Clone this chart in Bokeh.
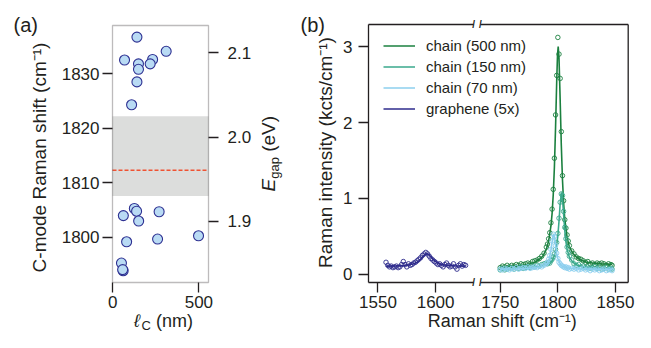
import math
from bokeh.plotting import figure
from bokeh.models import (Range1d, LinearAxis, FixedTicker, Label, BoxAnnotation,
                          Legend, LegendItem, PrintfTickFormatter)
from bokeh.layouts import row
from bokeh.embed import file_html
from bokeh.resources import INLINE

FONT = "Liberation Sans"
INK = "#231f20"

# ---------------- panel (a) data ----------------
chain_length_nm = [140, 68, 310, 231, 217, 149, 149, 140, 109,
                   61, 125, 138, 269, 150, 80, 260, 498, 50, 60, 57]
cmode_shift_cm = [1836.7, 1832.5, 1834.1, 1832.6, 1831.8, 1831.8, 1830.8, 1828.5, 1824.3,
                  1804.0, 1805.3, 1804.8, 1804.7, 1803.0, 1799.2, 1799.7, 1800.3, 1795.3, 1793.9, 1794.1]
band_low_cm = 1807.6
band_high_cm = 1822.2
mean_shift_cm = 1812.3
a_xticks = [0, 500]
a_yticks = [1800, 1810, 1820, 1830]
egap_ticks = [1.9, 2.0, 2.1]

# ---------------- panel (b) data ----------------
graphene_shift_cm = [1557.0, 1558.5, 1560.0, 1561.5, 1563.0, 1564.5, 1566.0, 1567.5, 1569.0, 1570.5,
                     1572.0, 1573.5, 1575.0, 1576.5, 1578.0, 1579.5, 1581.0, 1582.5, 1584.0, 1585.5,
                     1587.0, 1588.5, 1590.0, 1591.5, 1593.0, 1594.5, 1596.0, 1597.5, 1599.0, 1600.5,
                     1602.0, 1603.5, 1605.0, 1606.5, 1608.0, 1609.5, 1611.0, 1612.5, 1614.0, 1615.5,
                     1617.0, 1618.5, 1620.0, 1621.5, 1623.0, 1624.5, 1626.0]
graphene_intensity = [0.16, 0.12, 0.10, 0.11, 0.09, 0.10, 0.11, 0.09, 0.10, 0.13,
                      0.17, 0.13, 0.10, 0.14, 0.12, 0.13, 0.15, 0.16, 0.18, 0.20,
                      0.22, 0.25, 0.27, 0.29, 0.27, 0.24, 0.21, 0.19, 0.17, 0.15,
                      0.13, 0.14, 0.12, 0.10, 0.13, 0.15, 0.12, 0.10, 0.11, 0.14,
                      0.10, 0.07, 0.12, 0.14, 0.11, 0.13, 0.12]
graphene_fit_shift_cm = [1557, 1565, 1572, 1577, 1581, 1584, 1587, 1589, 1591, 1592.5,
                         1594, 1596, 1598, 1601, 1605, 1611, 1618, 1626]
graphene_fit_intensity = [0.11, 0.112, 0.118, 0.127, 0.14, 0.16, 0.20, 0.235, 0.265, 0.272,
                          0.262, 0.232, 0.195, 0.158, 0.132, 0.118, 0.112, 0.11]

chain_shift_cm = [1750, 1752, 1754, 1756, 1758, 1760, 1762, 1764, 1766, 1768,
                  1770, 1772, 1774, 1776, 1778, 1780, 1782, 1784, 1786, 1788,
                  1790, 1791, 1792, 1793, 1794, 1795, 1796, 1797, 1798, 1799,
                  1800, 1801, 1802, 1803, 1804, 1805, 1806, 1807, 1808, 1809,
                  1810, 1812, 1814, 1816, 1818, 1820, 1822, 1824, 1826, 1828,
                  1830, 1832, 1834, 1836, 1838, 1840, 1842, 1844, 1846, 1847]
chain500_intensity = [0.09, 0.11, 0.10, 0.12, 0.10, 0.12, 0.11, 0.13, 0.12, 0.14,
                      0.13, 0.14, 0.15, 0.14, 0.17, 0.18, 0.19, 0.21, 0.24, 0.28,
                      0.36, 0.40, 0.47, 0.55, 0.68, 0.86, 1.12, 1.53, 2.10, 2.62,
                      3.12, 2.90, 2.58, 1.88, 1.30, 0.97, 0.72, 0.61, 0.52, 0.44,
                      0.38, 0.31, 0.27, 0.23, 0.21, 0.20, 0.18, 0.16, 0.17, 0.14,
                      0.15, 0.13, 0.15, 0.14, 0.15, 0.14, 0.12, 0.14, 0.13, 0.12]
chain150_intensity = [0.06, 0.08, 0.06, 0.07, 0.09, 0.08, 0.07, 0.09, 0.08, 0.10,
                      0.08, 0.09, 0.10, 0.09, 0.11, 0.10, 0.12, 0.11, 0.13, 0.14,
                      0.15, 0.14, 0.16, 0.15, 0.18, 0.20, 0.23, 0.27, 0.33, 0.42,
                      0.54, 0.74, 0.95, 1.06, 1.04, 0.83, 0.62, 0.47, 0.36, 0.29,
                      0.24, 0.19, 0.14, 0.12, 0.13, 0.10, 0.11, 0.09, 0.10, 0.08,
                      0.09, 0.10, 0.08, 0.09, 0.07, 0.08, 0.09, 0.07, 0.08, 0.07]
chain70_intensity = [0.07, 0.06, 0.08, 0.07, 0.06, 0.08, 0.07, 0.09, 0.07, 0.08,
                     0.09, 0.08, 0.10, 0.08, 0.09, 0.10, 0.09, 0.11, 0.10, 0.12,
                     0.14, 0.16, 0.20, 0.25, 0.33, 0.44, 0.53, 0.50, 0.38, 0.28,
                     0.21, 0.16, 0.14, 0.12, 0.11, 0.10, 0.09, 0.10, 0.08, 0.09,
                     0.07, 0.08, 0.07, 0.08, 0.06, 0.07, 0.08, 0.06, 0.07, 0.05,
                     0.07, 0.06, 0.07, 0.05, 0.06, 0.07, 0.05, 0.06, 0.07, 0.05]
fit500_shift_cm = [1750, 1760, 1770, 1776, 1780, 1784, 1787, 1790, 1792, 1794, 1795, 1796,
                   1797, 1798, 1799, 1799.7, 1800.3, 1801, 1802, 1803, 1804, 1805, 1806,
                   1808, 1810, 1813, 1816, 1820, 1825, 1830, 1838, 1847]
fit500_intensity = [0.10, 0.11, 0.12, 0.14, 0.16, 0.20, 0.24, 0.33, 0.44, 0.64, 0.80, 1.05,
                    1.41, 1.93, 2.54, 2.89, 3.00, 2.85, 2.30, 1.70, 1.25, 0.94, 0.73,
                    0.49, 0.36, 0.28, 0.23, 0.19, 0.16, 0.15, 0.14, 0.13]
fit150_shift_cm = [1750, 1760, 1770, 1778, 1784, 1788, 1792, 1795, 1797, 1799, 1800, 1801,
                   1802, 1803.2, 1804, 1805, 1806, 1807, 1808, 1810, 1813, 1817, 1822, 1830,
                   1840, 1847]
fit150_intensity = [0.07, 0.075, 0.085, 0.095, 0.105, 0.12, 0.14, 0.18, 0.25, 0.39, 0.51, 0.70,
                    0.93, 1.08, 1.00, 0.79, 0.58, 0.43, 0.335, 0.225, 0.16, 0.12, 0.10, 0.09,
                    0.08, 0.08]
fit70_shift_cm = [1750, 1765, 1775, 1782, 1786, 1789, 1791, 1792.5, 1794, 1795, 1796.3, 1797.2,
                  1798, 1799, 1800, 1801.5, 1803, 1805, 1808, 1815, 1830, 1847]
fit70_intensity = [0.07, 0.075, 0.08, 0.09, 0.10, 0.12, 0.15, 0.20, 0.32, 0.43, 0.535, 0.49,
                   0.39, 0.28, 0.21, 0.155, 0.12, 0.10, 0.085, 0.075, 0.07, 0.065]

b_xticks = [1550, 1600, 1750, 1800, 1850]
b_yticks = [0, 1, 2, 3]
legend_labels = ["chain (500 nm)", "chain (150 nm)", "chain (70 nm)", "graphene (5x)"]

C500, C150, C70, CGR = "#1b803f", "#3aa98c", "#8ccfee", "#2e2b8c"

# ---------------- geometry (pixels inside each canvas) ----------------
H = 332
WA, WB = 290, 345
BOXA = dict(L=112, R=208, T=25, B=282, xr=(-2.0, 556.0), yr=(1791.74, 1838.83))
EGAP_BOX = (1.827, 2.1326)
BOXB = dict(L=78, R=337.7, T=24, B=282, xr=(1541.8, 1767.0), yr=(-0.106, 3.29))
BREAK_SHIFT = 94          # cm-1 removed from the broken x axis of panel (b)
LEFT_SEG_END = 1633.0     # end of the left x segment (cm-1)
RIGHT_SEG_START = 1732.9  # start of the right x segment (cm-1)
BASE = 0.33               # baseline correction (fraction of font size)


def full_x(b, W):
    s = (b["xr"][1] - b["xr"][0]) / (b["R"] - b["L"])
    return (b["xr"][0] - b["L"] * s, b["xr"][0] + (W - b["L"]) * s)


def full_y(b, lo, hi):
    s = (hi - lo) / (b["B"] - b["T"])
    return (lo - (H - b["B"]) * s, hi + b["T"] * s)


def px_to_data(b, W, cx, cy):
    x0, x1 = full_x(b, W)
    y0, y1 = full_y(b, *b["yr"])
    return x0 + cx / W * (x1 - x0), y1 - cy / H * (y1 - y0)


def add_text(fig, b, W, cx, cy, text, size, rotated=False, align="left",
             style="normal", color=INK):
    # (cx, cy) is where the text baseline should be
    if rotated:
        cx = cx - BASE * size
    else:
        cy = cy - BASE * size
    x, y = px_to_data(b, W, cx, cy)
    fig.add_layout(Label(x=x, y=y, text=text, angle=(math.pi / 2 if rotated else 0.0),
                         text_align=align, text_baseline="alphabetic", text_font=FONT,
                         text_font_size=f"{size}px", text_font_style=style,
                         text_color=color))


def style_axis(ax, standoff):
    ax.axis_line_color = None
    ax.major_tick_out = 10
    ax.major_tick_in = 0
    ax.minor_tick_out = 0
    ax.minor_tick_in = 0
    ax.major_tick_line_color = INK
    ax.major_tick_line_width = 1.3
    ax.major_label_text_font = FONT
    ax.major_label_text_font_size = "17px"
    ax.major_label_text_color = INK
    ax.major_label_standoff = standoff


def make_fig(W, b):
    f = figure(width=W, height=H, x_range=Range1d(*full_x(b, W)),
               y_range=Range1d(*full_y(b, *b["yr"])),
               output_backend="svg", toolbar_location=None,
               min_border_left=0, min_border_right=0, min_border_top=0, min_border_bottom=0)
    f.xgrid.visible = False
    f.ygrid.visible = False
    f.outline_line_color = None
    f.background_fill_color = "white"
    f.border_fill_color = "white"
    f.xaxis[0].fixed_location = b["yr"][0]
    f.yaxis[0].fixed_location = b["xr"][0]
    return f


# ================= panel (a) =================
pa = make_fig(WA, BOXA)
style_axis(pa.xaxis[0], 3)
style_axis(pa.yaxis[0], 3)
pa.xaxis[0].ticker = FixedTicker(ticks=a_xticks)
pa.yaxis[0].ticker = FixedTicker(ticks=a_yticks)

pa.extra_y_ranges = {"egap": Range1d(*full_y(BOXA, *EGAP_BOX))}
egap_axis = LinearAxis(y_range_name="egap", ticker=FixedTicker(ticks=egap_ticks),
                       formatter=PrintfTickFormatter(format="%.1f"),
                       fixed_location=BOXA["xr"][1])
style_axis(egap_axis, 9)
pa.add_layout(egap_axis, "right")

ax0, ax1 = BOXA["xr"]
ay0, ay1 = BOXA["yr"]
pa.add_layout(BoxAnnotation(left=ax0, right=ax1, bottom=band_low_cm, top=band_high_cm,
                            fill_color="#dcdddc", fill_alpha=1.0, line_color=None,
                            level="underlay"))
pa.segment(x0=[ax0], y0=[mean_shift_cm], x1=[ax1], y1=[mean_shift_cm],
           line_color="#ef5233", line_width=1.6, line_dash="4 2")
pa.scatter(chain_length_nm, cmode_shift_cm, size=10, fill_color="#b9dbf4",
           line_color="#2e3192", line_width=1.1)
pa.add_layout(BoxAnnotation(left=ax0, right=ax1, bottom=ay0, top=ay1, fill_alpha=0,
                            line_color=INK, line_width=1.3))

add_text(pa, BOXA, WA, 13, 31, "(a)", 20)
add_text(pa, BOXA, WA, 45, 157, "C-mode Raman shift (cm\u207b\u00b9)", 19,
         rotated=True, align="center")
# E_gap (eV) on the right, composed of pieces (subscript)
eb_x, e_start = 274, 153 + 38
add_text(pa, BOXA, WA, eb_x, e_start, "E", 19, rotated=True, style="italic")
add_text(pa, BOXA, WA, eb_x + 4, e_start - 12.7, "gap", 13, rotated=True)
add_text(pa, BOXA, WA, eb_x, e_start - 12.7 - 21.7 - 5.3, "(eV)", 19, rotated=True)
# l_C (nm) below
lx, ly = 133.5, 326
add_text(pa, BOXA, WA, lx, ly, "\u2113", 18, style="italic")
add_text(pa, BOXA, WA, lx + 7.6, ly + 3.5, "C", 13)
add_text(pa, BOXA, WA, lx + 7.6 + 9.4 + 5.0, ly, "(nm)", 18)

# ================= panel (b) =================
pb = make_fig(WB, BOXB)
style_axis(pb.xaxis[0], 3)
style_axis(pb.yaxis[0], 6)
pb.yaxis[0].ticker = FixedTicker(ticks=b_yticks)
pb.xaxis[0].ticker = FixedTicker(ticks=[t if t < 1700 else t - BREAK_SHIFT for t in b_xticks])
pb.xaxis[0].major_label_overrides = {t - BREAK_SHIFT: str(t) for t in b_xticks if t > 1700}

# broken plot box
bx0, bx1 = BOXB["xr"]
by0, by1 = BOXB["yr"]
l_end = LEFT_SEG_END
r_start = RIGHT_SEG_START - BREAK_SHIFT
pb.segment(x0=[bx0, bx1, bx0, r_start, bx0, r_start],
           y0=[by0, by0, by1, by1, by0, by0],
           x1=[bx0, bx1, l_end, bx1, l_end, bx1],
           y1=[by1, by1, by1, by1, by0, by0],
           line_color=INK, line_width=1.3)


def shifted(xs):
    return [v - BREAK_SHIFT for v in xs]


pb.scatter(graphene_shift_cm, graphene_intensity, size=4.5, fill_color=None,
           line_color=CGR, line_width=0.9)
r_gr = pb.line(graphene_fit_shift_cm, graphene_fit_intensity, line_color=CGR, line_width=1.6)

pb.scatter(shifted(chain_shift_cm), chain500_intensity, size=4.5, fill_color=None,
           line_color=C500, line_width=0.9)
r500 = pb.line(shifted(fit500_shift_cm), fit500_intensity, line_color=C500, line_width=1.6)
pb.scatter(shifted(chain_shift_cm), chain150_intensity, size=4.5, fill_color=None,
           line_color=C150, line_width=0.9)
r150 = pb.line(shifted(fit150_shift_cm), fit150_intensity, line_color=C150, line_width=1.6)
pb.scatter(shifted(chain_shift_cm), chain70_intensity, size=4.5, fill_color=None,
           line_color=C70, line_width=0.9)
r70 = pb.line(shifted(fit70_shift_cm), fit70_intensity, line_color=C70, line_width=1.6)

legend = Legend(items=[LegendItem(label=legend_labels[0], renderers=[r500]),
                       LegendItem(label=legend_labels[1], renderers=[r150]),
                       LegendItem(label=legend_labels[2], renderers=[r70]),
                       LegendItem(label=legend_labels[3], renderers=[r_gr])],
                location=(93, 215), border_line_color=None, background_fill_alpha=0,
                label_text_font=FONT, label_text_font_size="15px", label_text_color=INK,
                glyph_width=32, glyph_height=17, label_height=17, label_standoff=11,
                spacing=4, padding=0, margin=0)
pb.add_layout(legend)

# break marks
for xb in (l_end, r_start):
    for yb in (by0, by1):
        pb.add_layout(Label(x=xb, y=yb, text="/", text_align="center", text_baseline="middle",
                            text_font=FONT, text_font_size="10px", text_font_style="bold",
                            text_color=INK))

add_text(pb, BOXB, WB, 10, 31, "(b)", 20)
add_text(pb, BOXB, WB, 41, 152, "Raman intensity (kcts/cm\u207b\u00b9)", 19,
         rotated=True, align="center")
add_text(pb, BOXB, WB, (BOXB["L"] + BOXB["R"]) / 2 + 4, 326, "Raman shift (cm\u207b\u00b9)", 18,
         align="center")

layout = row(pa, pb)
open("out.html", "w").write(file_html(layout, INLINE))
